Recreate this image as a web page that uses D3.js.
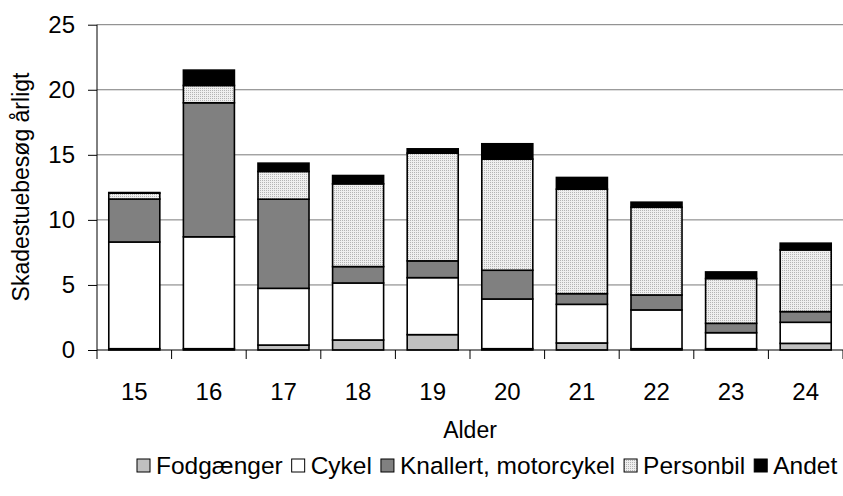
<!DOCTYPE html>
<html>
<head>
<meta charset="utf-8">
<script src="https://cdn.jsdelivr.net/npm/d3@7"></script>
<style>
  body { margin: 0; background: #fff; }
  text { font-family: "Liberation Sans", Arial, sans-serif; fill: #000; }
</style>
</head>
<body>
<div id="chart"></div>
<script>
// data
const ages = ["15", "16", "17", "18", "19", "20", "21", "22", "23", "24"];
const seriesNames = ["Fodgænger", "Cykel", "Knallert, motorcykel", "Personbil", "Andet"];
const fodgaenger = [0.1, 0.1, 0.38, 0.77, 1.18, 0.1, 0.54, 0.1, 0.1, 0.51];
const cykel      = [8.2, 8.6, 4.36, 4.38, 4.38, 3.82, 2.97, 2.98, 1.23, 1.62];
const knallert   = [3.3, 10.3, 6.85, 1.26, 1.29, 2.21, 0.82, 1.15, 0.72, 0.82];
const personbil  = [0.45, 1.33, 2.13, 6.36, 8.28, 8.54, 8.03, 6.74, 3.44, 4.74];
const andet      = [0.05, 1.18, 0.64, 0.64, 0.33, 1.18, 0.9, 0.39, 0.51, 0.52];
const yTicks = [0, 5, 10, 15, 20, 25];

const W = 843, H = 496;
const plotL = 97, plotR = 843, plotT = 24.7, plotB = 350;

const svg = d3.select("#chart").append("svg")
  .attr("width", W).attr("height", H);

// dotted fill for Personbil
const defs = svg.append("defs");
const pat = defs.append("pattern")
  .attr("id", "dots").attr("patternUnits", "userSpaceOnUse")
  .attr("width", 2).attr("height", 2);
pat.append("rect").attr("width", 2).attr("height", 2).attr("fill", "#efefef");
pat.append("rect").attr("width", 1).attr("height", 1).attr("fill", "#b4b4b4");

const fills = ["#c0c0c0", "#ffffff", "#808080", "url(#dots)", "#000000"];
const keys = ["f", "c", "k", "p", "a"];

const table = ages.map((a, i) => ({
  age: a, f: fodgaenger[i], c: cykel[i], k: knallert[i], p: personbil[i], a: andet[i]
}));
const stacked = d3.stack().keys(keys)(table);

const x = d3.scaleBand()
  .domain(ages)
  .range([plotL, plotR])
  .paddingInner(0.316)
  .paddingOuter(0.158);

const y = d3.scaleLinear().domain([0, 25]).range([plotB, plotT]);

// gridlines
svg.append("g").selectAll("line")
  .data(yTicks.filter(d => d > 0))
  .enter().append("line")
  .attr("x1", plotL).attr("x2", plotR)
  .attr("y1", d => y(d)).attr("y2", d => y(d))
  .attr("stroke", "#7a7a7a").attr("stroke-width", 1);

// bars
svg.append("g").selectAll("g")
  .data(stacked)
  .enter().append("g")
  .attr("fill", (d, i) => fills[i])
  .selectAll("rect")
  .data(d => d)
  .enter().append("rect")
  .attr("x", d => x(d.data.age))
  .attr("width", x.bandwidth())
  .attr("y", d => y(d[1]))
  .attr("height", d => y(d[0]) - y(d[1]))
  .attr("stroke", "#000").attr("stroke-width", 1.6);

// y axis
const yAxis = d3.axisLeft(y).tickValues(yTicks).tickSize(9).tickPadding(13);
const gy = svg.append("g").attr("transform", "translate(" + plotL + ",0)").call(yAxis);
gy.select(".domain").attr("stroke", "#000").attr("d", "M0," + plotT + "V" + plotB);
gy.selectAll(".tick line").attr("stroke", "#000");
gy.selectAll("text").style("font-size", "24px").style("font-family", "Liberation Sans, Arial, sans-serif");

// x axis: ticks between categories
const gx = svg.append("g").attr("transform", "translate(0," + plotB + ")");
gx.append("line").attr("x1", plotL).attr("x2", plotR).attr("y1", 0).attr("y2", 0).attr("stroke", "#000");
gx.selectAll(".tk")
  .data(d3.range(ages.length + 1))
  .enter().append("line")
  .attr("x1", i => plotL + i * x.step()).attr("x2", i => plotL + i * x.step())
  .attr("y1", 0).attr("y2", 9)
  .attr("stroke", "#000");
gx.selectAll(".lbl")
  .data(ages)
  .enter().append("text")
  .attr("x", d => x(d) + x.bandwidth() / 2)
  .attr("y", 50)
  .attr("text-anchor", "middle")
  .style("font-size", "24px")
  .text(d => d);

// axis titles
svg.append("text")
  .attr("x", 470).attr("y", 438)
  .attr("text-anchor", "middle")
  .style("font-size", "23px")
  .text("Alder");

svg.append("text")
  .attr("transform", "translate(29,187) rotate(-90)")
  .attr("text-anchor", "middle")
  .style("font-size", "23px")
  .text("Skadestuebesøg årligt");

// legend
const legend = svg.append("g").attr("transform", "translate(0,474)");
let lx = 137;
seriesNames.forEach((name, i) => {
  legend.append("rect")
    .attr("x", lx).attr("y", -15)
    .attr("width", 13).attr("height", 13)
    .attr("fill", fills[i]).attr("stroke", "#000").attr("stroke-width", 1);
  const t = legend.append("text")
    .attr("x", lx + 19).attr("y", 0)
    .style("font-size", "24.5px")
    .text(name);
  lx += 19 + t.node().getComputedTextLength() + 9;
});
</script>
</body>
</html>
